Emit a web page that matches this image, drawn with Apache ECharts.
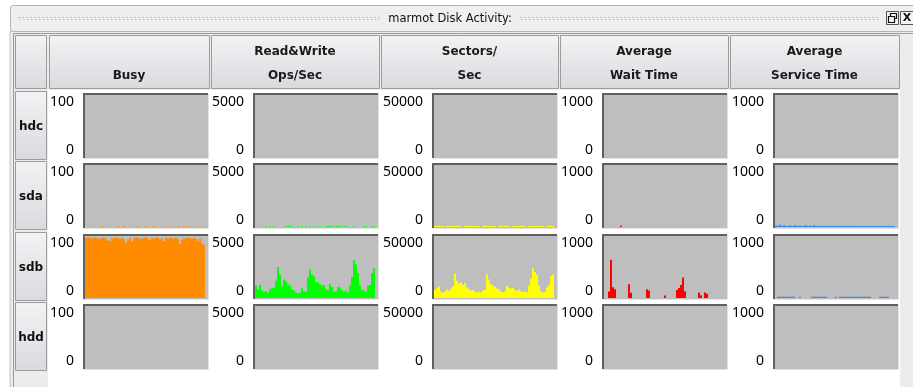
<!DOCTYPE html>
<html>
<head>
<meta charset="utf-8">
<style>
  html, body { margin: 0; padding: 0; background: #ffffff; }
  #chart { width: 913px; height: 387px; }
</style>
<script src="https://cdn.jsdelivr.net/npm/echarts@6/dist/echarts.min.js"></script>
</head>
<body>
<div id="chart"></div>
<script>
// ---- data ----------------------------------------------------------------
const title = 'marmot Disk Activity:';
const disks = ['hdc', 'sda', 'sdb', 'hdd'];
const metricHeaders = [['Busy'], ['Read&Write', 'Ops/Sec'], ['Sectors/', 'Sec'], ['Average', 'Wait Time'], ['Average', 'Service Time']];
const metricMax = [100, 5000, 50000, 1000, 1000];
const metricColors = ['#ff8c00', '#00ff00', '#ffff00', '#ff0000', '#3a8ff0'];
const sampleCount = 60;

// sda
const sdaBusy = [0,0,0,0,0,0,0,0,1.5,0, 0,0,0,0,0,0,1.5,0,0,1.5, 0,0,0,0,0,0,1.5,0,0,0,
                 1.5,0,0,0,1.5,0,0,0,0,0, 0,1.5,0,0,0,0,1.5,0,0,1.5, 0,1.5,0,0,0,0,0,1.5,0,0];
const sdaOps = [0,0,0,0,0,60,0,60,0,60, 0,0,0,0,0,60,60,60,60,0, 0,60,0,60,0,60,0,60,0,0,
                60,0,60,0,0,60,60,60,60,0, 60,60,60,0,60,60,0,0,0,60, 0,0,0,0,60,60,0,0,60,60];
const sdaSectors = [900,700,1000,800,900,0,800,1000,700,900, 800,900,1000,700,0,900,800,900,1000,800,
                    700,900,800,0,900,1000,800,700,900,800, 900,0,800,900,700,1000,800,900,0,800,
                    900,700,800,1000,900,800,0,900,800,700, 900,1000,800,900,700,0,800,900,1000,800];
const sdaWait = [0,0,0,0,0,0,0,0,20,0, 0,0,0,0,0,0,0,0,0,0, 0,0,0,0,0,0,0,0,0,0,
                 0,0,0,0,0,0,0,0,0,0, 0,0,0,0,0,0,0,0,0,0, 0,0,0,0,0,0,0,0,0,0];
const sdaService = [30,15,35,15,30,20,15,30,15,25, 30,15,25,15,20,30,15,25,15,30, 20,15,15,20,15,15,20,15,15,15,
                    20,15,15,20,15,15,15,15,20,15, 15,15,15,15,15,15,15,15,15,15, 15,15,15,15,15,15,15,15,15,15];

// sdb
const sdbBusy = [97,98,97,96,98,97,96,95,97,98, 96,93,92,97,96,98,97,96,97,95,
                 89,94,97,91,96,98,97,96,95,97, 98,96,93,97,96,98,97,95,96,92,
                 97,96,98,97,96,97,95,87,94,97, 96,98,97,96,97,95,92,96,88,86];
const sdbOps = [1000,700,1050,650,500,550,450,700,850,780, 1400,2500,1900,950,1500,1350,1100,1000,700,600,
                450,380,420,800,550,500,1650,2300,1900,1750, 1300,1250,1100,1000,1050,700,600,1150,900,500,
                550,900,850,650,500,600,450,1000,1700,3050, 2700,2000,1000,650,600,500,1000,1050,2000,2400];
const sdbSectors = [6500,7800,9200,5200,4300,5400,6800,5800,7500,9500, 19500,14000,11500,12500,10500,11800,8500,7200,5900,6500,
                    5200,4600,5000,4500,6000,6400,19200,15000,11000,9800, 9000,7600,7100,5300,4600,5200,9600,8300,7600,8200,
                    6300,5600,7000,5400,4900,5300,4700,9800,15500,24000, 21000,18500,10000,5200,4500,4800,8700,10500,17500,19000];
const sdbWait = [0,0,105,615,175,140,0,0,0,0, 0,0,220,85,0,0,0,0,0,0, 0,140,120,0,0,0,0,0,0,0,
                 40,0,0,0,0,0,130,160,210,330, 110,0,0,0,0,0,0,90,45,0, 90,70,0,0,0,0,0,0,0,0];
const sdbService = [0,20,20,21,20,20,19,20,20,20, 0,0,20,0,0,0,0,0,20,21, 20,20,20,20,20,20,0,0,0,0,
                    20,0,20,20,20,21,20,20,20,20, 20,20,20,20,20,20,20,20,0,0, 0,0,20,20,20,20,20,0,0,0];

// per-disk series (hdc and hdd report nothing)
const diskSeries = {
  hdc: [[], [], [], [], []],
  sda: [sdaBusy, sdaOps, sdaSectors, sdaWait, sdaService],
  sdb: [sdbBusy, sdbOps, sdbSectors, sdbWait, sdbService],
  hdd: [[], [], [], [], []]
};

// ---- layout ----------------------------------------------------------------
const colStart = [49, 211, 381, 560, 730];
const colEnd = [209, 379, 558, 728, 899];
const plotLeft = [83, 253, 432, 602, 773];
const plotW = 125;
const rowTop = [92, 162, 233, 303];
const rowH = 68;
const plotH = 65;
const FONT = 'DejaVu Sans';

const sampleIndex = Array.from({ length: sampleCount }, (_, i) => i);

const grids = [], xAxes = [], yAxes = [], series = [], graphics = [];

// window background / frame
graphics.push(
  { type: 'rect', z: -10, shape: { x: 10, y: 31, width: 910, height: 360 }, style: { fill: '#ececec', stroke: '#c4c4c4', lineWidth: 1 } },
  { type: 'rect', z: -9, shape: { x: 13.5, y: 33.5, width: 905, height: 360 }, style: { fill: '#ececec', stroke: '#9a9a9a', lineWidth: 1 } },
  { type: 'rect', z: -8, shape: { x: 48, y: 90, width: 852, height: 300 }, style: { fill: '#ffffff' } }
);

// title bar
graphics.push(
  { type: 'rect', z: -7, shape: { x: 10.5, y: 5.5, width: 910, height: 26, r: 3 }, style: { fill: '#efefef', stroke: '#b4b4b4', lineWidth: 1 } },
  { type: 'line', z: -6, shape: { x1: 18, y1: 17.5, x2: 380, y2: 17.5 }, style: { stroke: '#bdbdbd', lineWidth: 1, lineDash: [2, 2] } },
  { type: 'line', z: -6, shape: { x1: 19, y1: 19.5, x2: 380, y2: 19.5 }, style: { stroke: '#c8c8c8', lineWidth: 1, lineDash: [2, 2] } },
  { type: 'line', z: -6, shape: { x1: 520, y1: 17.5, x2: 880, y2: 17.5 }, style: { stroke: '#bdbdbd', lineWidth: 1, lineDash: [2, 2] } },
  { type: 'line', z: -6, shape: { x1: 521, y1: 19.5, x2: 880, y2: 19.5 }, style: { stroke: '#c8c8c8', lineWidth: 1, lineDash: [2, 2] } },
  { type: 'text', z: 5, style: { x: 450, y: 19, text: title, fill: '#111', font: '11.5px "' + FONT + '"', align: 'center', verticalAlign: 'middle' } },
  // restore button
  { type: 'rect', z: 5, shape: { x: 886.5, y: 11.5, width: 12, height: 13 }, style: { fill: '#f4f4f4', stroke: '#555', lineWidth: 1 } },
  { type: 'rect', z: 6, shape: { x: 890.5, y: 13.5, width: 6, height: 5 }, style: { fill: 'none', stroke: '#111', lineWidth: 1.2 } },
  { type: 'rect', z: 6, shape: { x: 888.5, y: 16.5, width: 6, height: 6 }, style: { fill: '#f4f4f4', stroke: '#111', lineWidth: 1.2 } },
  // close button
  { type: 'rect', z: 5, shape: { x: 900.5, y: 11.5, width: 13, height: 13 }, style: { fill: '#f4f4f4', stroke: '#555', lineWidth: 1 } },
  { type: 'text', z: 6, style: { x: 907, y: 18.5, text: 'X', fill: '#111', font: 'bold 11px "' + FONT + '"', align: 'center', verticalAlign: 'middle' } }
);

const buttonFill = new echarts.graphic.LinearGradient(0, 0, 0, 1, [
  { offset: 0, color: '#f3f3f6' }, { offset: 1, color: '#dadade' }
]);

// corner cell and column headers
graphics.push({ type: 'rect', z: 1, shape: { x: 15.5, y: 35.5, width: 31, height: 53 }, style: { fill: buttonFill, stroke: '#9c9c9c', lineWidth: 1 } });
metricHeaders.forEach((lines, c) => {
  graphics.push({ type: 'rect', z: 1, shape: { x: colStart[c] + 0.5, y: 35.5, width: colEnd[c] - colStart[c], height: 53 },
    style: { fill: buttonFill, stroke: '#9c9c9c', lineWidth: 1 } });
  const cx = (colStart[c] + colEnd[c]) / 2;
  const ys = lines.length === 1 ? [75.5] : [51.5, 75.5];
  lines.forEach((t, k) => graphics.push({ type: 'text', z: 2,
    style: { x: cx, y: ys[k], text: t, fill: '#1a1a1a', font: 'bold 12px "' + FONT + '"', align: 'center', verticalAlign: 'middle' } }));
});

// row buttons
disks.forEach((d, r) => {
  graphics.push({ type: 'rect', z: 1, shape: { x: 15.5, y: rowTop[r] - 0.5, width: 31, height: rowH }, style: { fill: buttonFill, stroke: '#9c9c9c', lineWidth: 1 } });
  graphics.push({ type: 'text', z: 2, style: { x: 31, y: rowTop[r] + 35, text: d, fill: '#111', font: 'bold 12px "' + FONT + '"', align: 'center', verticalAlign: 'middle' } });
});

// one small plot per disk / metric; 2px per sample keeps the bars pixel-aligned
disks.forEach((d, r) => {
  metricMax.forEach((mx, c) => {
    const idx = r * metricMax.length + c;
    const px = plotLeft[c], py = rowTop[r] + 1;
    grids.push({ left: px + 2, top: py + 2, width: sampleCount * 2, height: plotH - 3, show: false, containLabel: false });
    xAxes.push({ gridIndex: idx, type: 'category', data: sampleIndex, show: false, boundaryGap: true });
    yAxes.push({ gridIndex: idx, type: 'value', min: 0, max: mx, interval: mx,
      axisLine: { show: false }, axisTick: { show: false }, splitLine: { show: false },
      axisLabel: { margin: 11, color: '#000', fontFamily: 'Noto Sans', fontSize: 14,
        formatter: v => String(v),
        verticalAlignMaxLabel: 'top', verticalAlignMinLabel: 'bottom' } });
    series.push({ type: 'bar', xAxisIndex: idx, yAxisIndex: idx, data: diskSeries[d][c],
      barCategoryGap: '0%', barGap: '0%', silent: true, animation: false,
      itemStyle: { color: metricColors[c], borderWidth: 0 } });
    // plot background and sunken border
    graphics.push({ type: 'rect', z: 1, shape: { x: px + 2, y: py + 2, width: plotW - 2, height: plotH - 2 }, style: { fill: '#bebebe' } });
    graphics.push({ type: 'polyline', z: 10, shape: { points: [[px + 1, py + plotH], [px + 1, py + 1], [px + plotW, py + 1]] },
      style: { stroke: '#606060', lineWidth: 2, fill: null } });
    graphics.push({ type: 'polyline', z: 10, shape: { points: [[px + plotW + 0.5, py + 1], [px + plotW + 0.5, py + plotH + 0.5], [px + 1, py + plotH + 0.5]] },
      style: { stroke: '#e2e2e2', lineWidth: 1, fill: null } });
  });
});

const chart = echarts.init(document.getElementById('chart'), null, { renderer: 'canvas' });
chart.setOption({
  animation: false,
  backgroundColor: '#ffffff',
  grid: grids,
  xAxis: xAxes,
  yAxis: yAxes,
  series: series,
  graphic: { elements: graphics }
});
</script>
</body>
</html>
